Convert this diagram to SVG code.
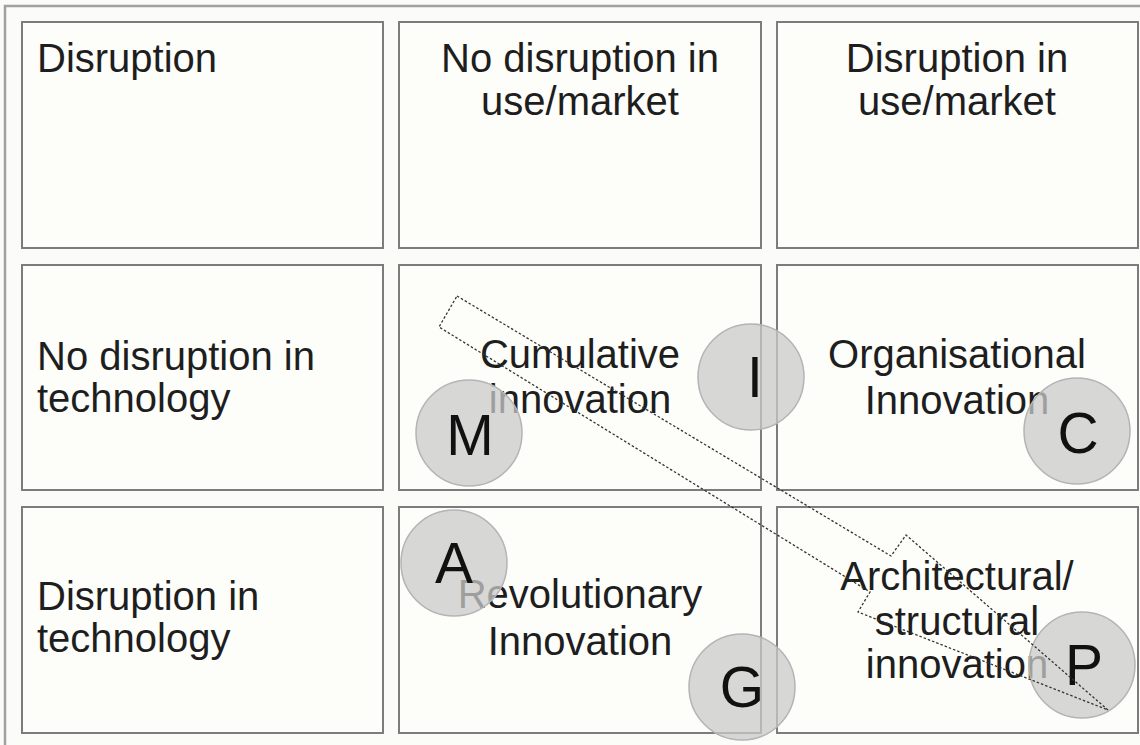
<svg xmlns="http://www.w3.org/2000/svg" width="1140" height="745" viewBox="0 0 1140 745">
<style>
.cell{fill:#fdfdfa;stroke:#7c7c7c;stroke-width:2}
.t{font-family:"Liberation Sans",Arial,sans-serif;font-size:40px;fill:#1e1e1e}
.c{text-anchor:middle}
.circ{fill:#c9c9c9;fill-opacity:0.75;stroke:#b4b4b4;stroke-width:1.5}
.l{font-family:"Liberation Sans",Arial,sans-serif;font-size:57px;fill:#111;text-anchor:middle}
.arrow{fill:none;stroke:#333;stroke-width:1.3;stroke-dasharray:2.5 2}
</style>
<rect x="0" y="0" width="1140" height="745" fill="#fbfbf8"/>
<rect x="5" y="6" width="1150" height="760" fill="none" stroke="#a0a0a0" stroke-width="2.5"/>
<g id="cell-r1c1"><rect class="cell" x="22" y="22" width="361" height="226"/><text class="t" x="37" y="72">Disruption</text></g>
<g id="cell-r1c2"><rect class="cell" x="399" y="22" width="362" height="226"/><text class="t c" x="580" y="72">No disruption in</text><text class="t c" x="580" y="115">use/market</text></g>
<g id="cell-r1c3"><rect class="cell" x="777" y="22" width="361" height="226"/><text class="t c" x="957" y="72">Disruption in</text><text class="t c" x="957" y="115">use/market</text></g>
<g id="cell-r2c1"><rect class="cell" x="22" y="265" width="361" height="225"/><text class="t" x="37" y="370">No disruption in</text><text class="t" x="37" y="412">technology</text></g>
<g id="cell-r2c2"><rect class="cell" x="399" y="265" width="362" height="225"/><text class="t c" x="580" y="368">Cumulative</text><text class="t c" x="580" y="413">innovation</text></g>
<g id="cell-r2c3"><rect class="cell" x="777" y="265" width="361" height="225"/><text class="t c" x="957" y="368">Organisational</text><text class="t c" x="957" y="414">Innovation</text></g>
<g id="cell-r3c1"><rect class="cell" x="22" y="507" width="361" height="226"/><text class="t" x="37" y="610">Disruption in</text><text class="t" x="37" y="652">technology</text></g>
<g id="cell-r3c2"><rect class="cell" x="399" y="507" width="362" height="226"/><text class="t c" x="580" y="608">Revolutionary</text><text class="t c" x="580" y="655">Innovation</text></g>
<g id="cell-r3c3"><rect class="cell" x="777" y="507" width="361" height="226"/><text class="t c" x="957" y="590">Architectural/</text><text class="t c" x="957" y="635">structural</text><text class="t c" x="957" y="678">innovation</text></g>
<g id="node-M"><circle class="circ" cx="469" cy="433" r="53"/><text class="l" x="470" y="455">M</text></g>
<g id="node-I"><circle class="circ" cx="751" cy="377" r="53"/><text class="l" x="755" y="397">I</text></g>
<g id="node-C"><circle class="circ" cx="1077" cy="431" r="53"/><text class="l" x="1078" y="453">C</text></g>
<g id="node-A"><circle class="circ" cx="454" cy="563" r="53"/><text class="l" x="454" y="583">A</text></g>
<g id="node-G"><circle class="circ" cx="742" cy="687" r="53"/><text class="l" x="742" y="707">G</text></g>
<g id="node-P"><circle class="circ" cx="1082" cy="665" r="53"/><text class="l" x="1084" y="685">P</text></g>
<g id="connectors">
<polygon class="arrow" points="457,296 891,556 906,535 1108,710 858,612 870,592 439,327"/>
</g>
</svg>
